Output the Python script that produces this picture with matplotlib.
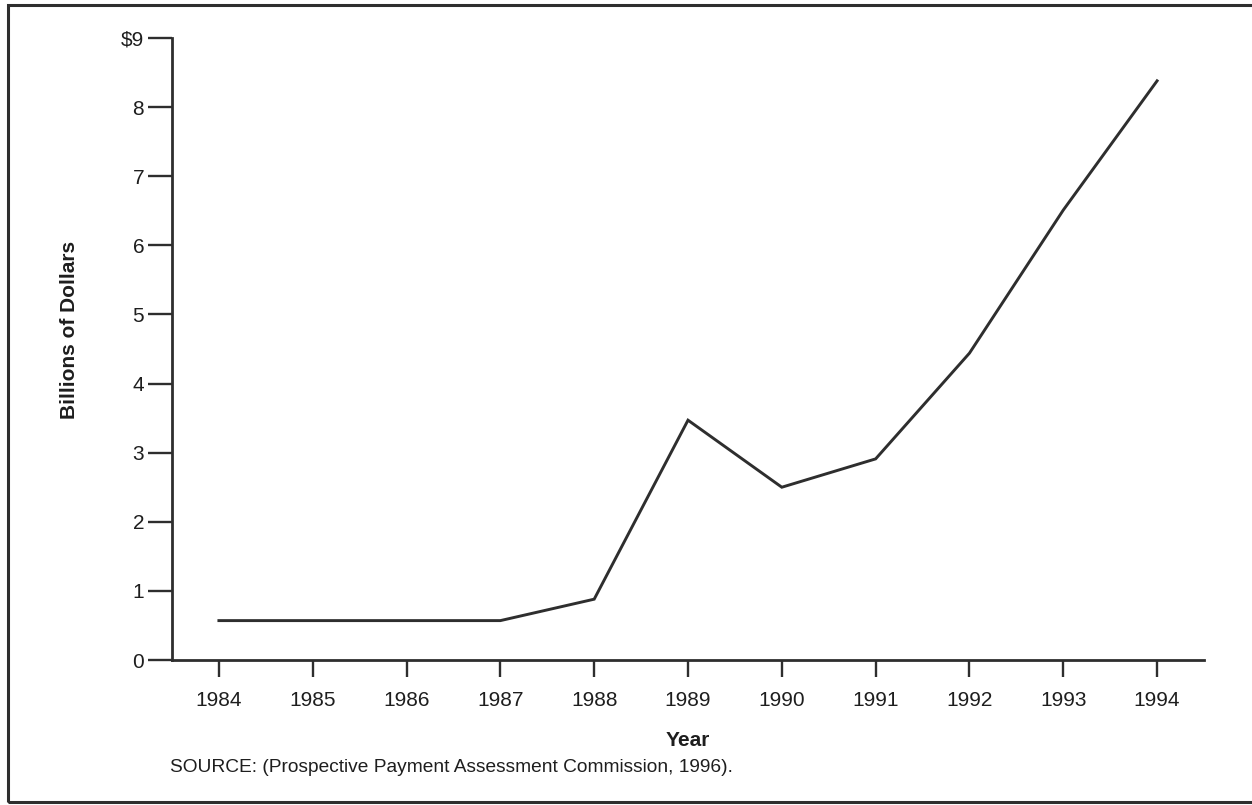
import matplotlib
matplotlib.use('Agg')
import matplotlib.pyplot as plt
from matplotlib.patches import Rectangle

# values (billions of dollars)
years = [1984, 1985, 1986, 1987, 1988, 1989, 1990, 1991, 1992, 1993, 1994]
billions = [0.57, 0.57, 0.57, 0.57, 0.88, 3.47, 2.50, 2.91, 4.44, 6.51, 8.38]
ytick_vals = [0, 1, 2, 3, 4, 5, 6, 7, 8, 9]
ytick_text = ['0', '1', '2', '3', '4', '5', '6', '7', '8', '$9']
source = 'SOURCE: (Prospective Payment Assessment Commission, 1996).'

plt.rcParams['font.family'] = ['Liberation Sans', 'DejaVu Sans']
ink = '#2e2e2e'
txt = '#1e1e1e'

fig = plt.figure(figsize=(12.52, 8.05), dpi=100)
ax = fig.add_axes([172 / 1252, 1 - 660 / 805, (1204 - 172) / 1252, (660 - 38) / 805])

ax.plot(years, billions, color=ink, lw=2.1, solid_joinstyle='miter')

ax.set_xlim(1983.5, 1994.5)
ax.set_ylim(0, 9)
ax.set_xticks(years)
ax.set_xticklabels([str(y) for y in years])
ax.set_yticks(ytick_vals)
ax.set_yticklabels(ytick_text)

for s in ['top', 'right']:
    ax.spines[s].set_visible(False)
for s in ['left', 'bottom']:
    ax.spines[s].set_linewidth(2.0)
    ax.spines[s].set_color(ink)

ax.tick_params(axis='y', direction='out', length=17, width=1.7, color=ink,
               labelsize=15, labelcolor=txt, pad=3)
ax.tick_params(axis='x', direction='out', length=12, width=1.7, color=ink,
               labelsize=15, labelcolor=txt, pad=10)

ax.set_ylabel('Billions of Dollars', fontsize=15, fontweight='bold', color=txt)
ax.yaxis.set_label_coords(-0.09, 0.53)
ax.set_xlabel('Year', fontsize=15, fontweight='bold', color=txt)
ax.xaxis.set_label_coords(0.5, -0.114)

fig.text(170 / 1252, 1 - 767 / 805, source, fontsize=13.8, color=txt,
         va='center', ha='left')

# border of the scanned figure box
fig.patches.append(Rectangle((8 / 1252, 1 - 802 / 805), 1.1, 797 / 805,
                             transform=fig.transFigure, fill=False,
                             lw=2.2, edgecolor=ink))

fig.savefig('out.png', dpi=100, facecolor='white')
